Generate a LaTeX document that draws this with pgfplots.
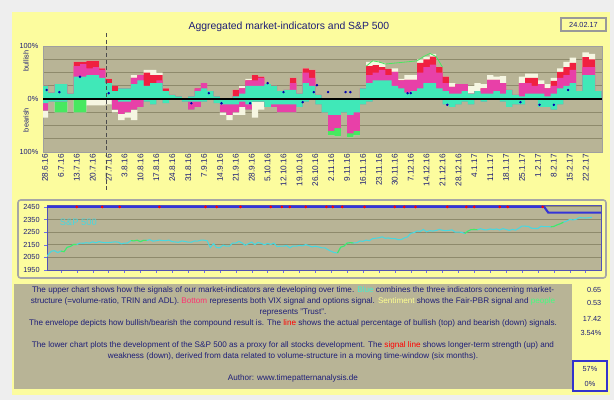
\documentclass[border=0pt]{standalone}
\usepackage{pgfplots}
\pgfplotsset{compat=1.18}
\usepackage{pgfplotstable}
\usepackage{fontspec}
\setmainfont{Liberation Sans}

\definecolor{bgout}{HTML}{EEEEEE}
\definecolor{panel}{HTML}{FCFC9E}
\definecolor{khaki}{HTML}{B8B496}
\definecolor{gridc}{HTML}{8E8A6C}
\definecolor{navy}{HTML}{1E1E78}
\definecolor{cC}{HTML}{40E8B8}
\definecolor{cM}{HTML}{E840A8}
\definecolor{cR}{HTML}{F02040}
\definecolor{cW}{HTML}{F6F6E2}
\definecolor{cG}{HTML}{48E860}
\definecolor{spx}{HTML}{48D8E0}
\definecolor{sig}{HTML}{3434D8}
\definecolor{wBlue}{HTML}{40F0D0}
\definecolor{wBottom}{HTML}{FF3070}
\definecolor{wSent}{HTML}{FFFF90}
\definecolor{wPeople}{HTML}{40FF80}

\def\PX{0.75pt}

\pgfplotstableread{
x c m r w nc nm ng nw
0.0 25 25 25 25 -8 -22 -22 -35
0.4 12 12 12 12 -5 -5 -5 -5
0.8 28 28 28 28 -5 -5 -25 -25
1.2 28 28 28 28 -5 -5 -25 -25
1.6 10 10 10 10 0 0 0 0
2.0 42 62 70 70 0 0 -25 -25
2.4 42 66 70 70 0 0 -25 -25
2.8 45 58 72 72 0 0 0 -12
3.2 45 60 72 72 0 0 0 -12
3.6 40 55 58 58 0 0 0 -12
4.0 30 30 38 38 0 0 0 -10
4.4 15 15 25 25 0 -20 -20 -25
4.8 20 20 20 20 -5 -28 -28 -40
5.2 20 20 20 20 -5 -25 -25 -35
5.6 28 40 40 45 0 -20 -20 -40
6.0 35 45 45 45 0 -15 -15 -15
6.4 25 25 50 55 -5 -5 -5 -5
6.8 30 30 45 55 -10 -10 -10 -10
7.2 30 35 45 50 0 0 0 0
7.6 15 15 20 20 -8 -8 -8 -8
8.0 8 8 8 8 0 0 0 0
8.4 5 5 5 5 0 0 0 0
8.8 0 0 0 0 -5 -5 -5 -5
9.2 5 5 5 5 -5 -20 -20 -20
9.6 15 20 20 20 -5 -15 -15 -15
10.0 20 30 30 30 -5 -5 -5 -5
10.4 15 15 15 15 0 0 0 0
10.8 5 5 5 5 -8 -8 -8 -8
11.2 0 0 0 0 -10 -25 -25 -30
11.6 0 0 0 0 -10 -30 -30 -40
12.0 5 5 17 17 -10 -25 -25 -30
12.4 10 20 20 25 -5 -15 -15 -30
12.8 25 35 35 38 -10 -20 -20 -20
13.2 25 35 45 45 -5 -5 -5 -35
13.6 25 40 42 42 -5 -5 -5 -20
14.0 28 28 28 28 -15 -15 -15 -15
14.4 25 25 25 25 -10 -15 -15 -15
14.8 15 15 15 15 -10 -25 -25 -25
15.2 17 17 17 17 -10 -25 -25 -25
15.6 17 30 40 40 -10 -25 -25 -25
16.0 10 10 10 10 -15 -15 -15 -15
16.4 30 50 58 58 -5 -5 -5 -5
16.8 25 40 55 55 0 0 0 0
17.2 8 8 8 8 -10 -10 -10 -10
17.6 0 0 0 0 -25 -25 -25 -25
18.0 0 0 0 0 -30 -60 -68 -68
18.4 0 0 0 0 -30 -55 -70 -70
18.8 0 0 0 0 -25 -25 -25 -25
19.2 0 0 0 0 -30 -65 -72 -72
19.6 0 0 0 0 -25 -60 -68 -68
20.0 20 20 20 20 -10 -10 -10 -10
20.4 30 45 62 70 -5 -5 -5 -5
20.8 35 50 64 72 0 0 0 0
21.2 35 55 60 68 0 0 0 0
21.6 35 45 57 57 0 0 0 0
22.0 25 51 51 58 0 0 0 0
22.4 20 35 35 38 0 0 0 0
22.8 12 36 36 45 0 0 0 0
23.2 15 36 36 45 0 0 0 0
23.6 20 50 68 75 0 0 0 0
24.0 30 60 75 80 0 0 0 0
24.4 30 65 80 85 0 0 0 0
24.8 20 50 60 60 0 0 0 0
25.2 15 30 42 42 -10 -10 -10 -10
25.6 10 23 23 30 -15 -15 -15 -15
26.0 10 28 28 28 -10 -10 -10 -10
26.4 15 28 28 28 -5 -5 -5 -5
26.8 10 10 10 25 -10 -10 -10 -10
27.2 15 15 15 30 0 0 0 0
27.6 10 20 20 28 -5 -5 -5 -5
28.0 10 36 36 45 0 0 0 0
28.4 15 36 36 42 0 0 0 0
28.8 10 30 30 43 -5 -5 -5 -5
29.2 17 17 17 17 -15 -15 -15 -15
29.6 8 8 8 8 -10 -10 -10 -10
30.0 5 30 30 42 -10 -10 -10 -10
30.4 10 30 40 48 0 0 0 0
30.8 10 25 40 48 0 0 0 0
31.2 10 28 28 35 -15 -15 -15 -15
31.6 5 20 20 28 -15 -15 -15 -15
32.0 10 25 34 40 -20 -20 -20 -20
32.4 20 40 51 58 -10 -10 -10 -10
32.8 25 45 60 70 0 0 0 0
33.2 30 55 68 78 0 0 0 0
33.6 15 15 15 15 0 0 0 0
34.0 45 60 79 88 0 0 0 0
34.4 45 60 75 85 0 0 0 0
34.8 15 15 15 15 0 0 0 0
}\bars

\pgfplotstableread[row sep=\\]{
x y\\
0.0 2036\\ 0.2 2071\\ 0.4 2099\\ 0.6 2103\\ 0.8 2088\\ 1.0 2100\\ 1.2 2095\\ 1.4 2130\\ 1.6 2137\\ 1.8 2152\\
2.0 2152\\ 2.2 2163\\ 2.4 2162\\ 2.6 2166\\ 2.8 2163\\ 3.0 2173\\ 3.2 2165\\ 3.4 2175\\ 3.6 2169\\ 3.8 2166\\
4.0 2167\\ 4.2 2170\\ 4.4 2173\\ 4.6 2171\\ 4.8 2157\\ 5.0 2163\\ 5.2 2164\\ 5.4 2183\\ 5.6 2181\\ 5.8 2186\\
6.0 2175\\ 6.2 2185\\ 6.4 2184\\ 6.6 2190\\ 6.8 2178\\ 7.0 2182\\ 7.2 2187\\ 7.4 2183\\ 7.6 2182\\ 7.8 2187\\
8.0 2175\\ 8.2 2172\\ 8.4 2169\\ 8.6 2180\\ 8.8 2176\\ 9.0 2171\\ 9.2 2170\\ 9.4 2180\\ 9.6 2179\\ 9.8 2186\\
10.0 2186\\ 10.2 2182\\ 10.4 2128\\ 10.6 2159\\ 10.8 2127\\ 11.0 2126\\ 11.2 2147\\ 11.4 2139\\ 11.6 2139\\ 11.8 2163\\
12.0 2163\\ 12.2 2177\\ 12.4 2164\\ 12.6 2146\\ 12.8 2159\\ 13.0 2171\\ 13.2 2151\\ 13.4 2168\\ 13.6 2161\\ 13.8 2150\\
14.0 2160\\ 14.2 2153\\ 14.4 2163\\ 14.6 2136\\ 14.8 2139\\ 15.0 2139\\ 15.2 2144\\ 15.4 2126\\ 15.6 2140\\ 15.8 2139\\
16.0 2144\\ 16.2 2141\\ 16.4 2151\\ 16.6 2143\\ 16.8 2133\\ 17.0 2139\\ 17.2 2133\\ 17.4 2126\\ 17.6 2126\\ 17.8 2111\\
18.0 2098\\ 18.2 2088\\ 18.4 2085\\ 18.6 2131\\ 18.8 2139\\ 19.0 2163\\ 19.2 2167\\ 19.4 2164\\ 19.6 2165\\ 19.8 2180\\
20.0 2177\\ 20.2 2187\\ 20.4 2182\\ 20.6 2198\\ 20.8 2202\\ 21.0 2205\\ 21.2 2213\\ 21.4 2201\\ 21.6 2204\\ 21.8 2199\\
22.0 2199\\ 22.2 2191\\ 22.4 2191\\ 22.6 2204\\ 22.8 2212\\ 23.0 2241\\ 23.2 2246\\ 23.4 2259\\ 23.6 2256\\ 23.8 2271\\
24.0 2253\\ 24.2 2262\\ 24.4 2258\\ 24.6 2263\\ 24.8 2271\\ 25.0 2265\\ 25.2 2261\\ 25.4 2264\\ 25.6 2268\\ 25.8 2250\\
26.0 2250\\ 26.2 2249\\ 26.4 2239\\ 26.6 2258\\ 26.8 2270\\ 27.0 2271\\ 27.2 2269\\ 27.4 2277\\ 27.6 2269\\ 27.8 2268\\
28.0 2275\\ 28.2 2271\\ 28.4 2275\\ 28.6 2267\\ 28.8 2278\\ 29.0 2271\\ 29.2 2264\\ 29.4 2271\\ 29.6 2266\\ 29.8 2281\\
30.0 2298\\ 30.2 2297\\ 30.4 2295\\ 30.6 2281\\ 30.8 2279\\ 31.0 2279\\ 31.2 2297\\ 31.4 2293\\ 31.6 2294\\ 31.8 2292\\
32.0 2295\\ 32.2 2307\\ 32.4 2316\\ 32.6 2328\\ 32.8 2337\\ 33.0 2350\\ 33.2 2347\\ 33.4 2351\\ 33.6 2365\\ 33.8 2363\\
34.0 2362\\ 34.2 2364\\ 34.4 2367\\
}\spxdata

\pgfplotsset{
  lay/.style={ybar, bar width=0.4, bar shift=0pt, draw=none, fill=#1},
}

\begin{document}
\begin{tikzpicture}
\useasboundingbox (0,0) rectangle (614*\PX,-400*\PX);
\fill[bgout] (0,0) rectangle (614*\PX,-400*\PX);
\fill[panel] (12*\PX,-12*\PX) rectangle (610*\PX,-395*\PX);

% title and date
\node[font=\fontsize{7.8}{9}\selectfont, text=navy] at (289*\PX,-27*\PX) {Aggregated market-indicators and S\&P 500};
\draw[gray!80, line width=0.8pt, fill=panel] (561*\PX,-18*\PX) rectangle (606*\PX,-31*\PX);
\node[font=\fontsize{5.5}{6}\selectfont, text=navy] at (583.5*\PX,-24.5*\PX) {24.02.17};

% side labels
\node[rotate=90, font=\fontsize{5.5}{6}\selectfont, text=navy] at (26*\PX,-61*\PX) {bullish};
\node[rotate=90, font=\fontsize{5.5}{6}\selectfont, text=navy] at (26*\PX,-120*\PX) {bearish};

% upper chart
\begin{axis}[
  at={(43*\PX,-152*\PX)}, anchor=south west,
  scale only axis, width=559*\PX, height=106*\PX,
  xmin=-0.13, xmax=35.03, ymin=-100, ymax=100,
  enlargelimits=false,
  axis background/.style={fill=khaki},
  axis line style={draw=gray!75, line width=0.7pt},
  xtick={0,...,34},
  xticklabels={28.6.16,6.7.16,13.7.16,20.7.16,27.7.16,3.8.16,10.8.16,17.8.16,24.8.16,31.8.16,7.9.16,14.9.16,21.9.16,28.9.16,5.10.16,12.10.16,19.10.16,26.10.16,2.11.16,9.11.16,16.11.16,23.11.16,30.11.16,7.12.16,14.12.16,21.12.16,28.12.16,4.1.17,11.1.17,18.1.17,25.1.17,1.2.17,8.2.17,15.2.17,22.2.17},
  xticklabel style={rotate=90, anchor=east, font=\fontsize{6.2}{7}\selectfont, text=navy, inner sep=1.5pt},
  ytick={-100,-75,...,100},
  yticklabels={100\%,,,,0\%,,,,100\%},
  yticklabel style={font=\fontsize{5.5}{6}\selectfont, text=navy},
  ymajorgrids, grid style={gridc, line width=0.7pt},
  major tick length=0pt,
  /pgf/number format/assume math mode=true,
]
\addplot[lay=cW] table[x=x,y=w]{\bars};
\addplot[lay=cR] table[x=x,y=r]{\bars};
\addplot[lay=cM] table[x=x,y=m]{\bars};
\addplot[lay=cC] table[x=x,y=c]{\bars};
\addplot[lay=cW] table[x=x,y=nw]{\bars};
\addplot[lay=cG] table[x=x,y=ng]{\bars};
\addplot[lay=cM] table[x=x,y=nm]{\bars};
\addplot[lay=cC] table[x=x,y=nc]{\bars};
\addplot[cG, line width=0.6pt] coordinates {(20.2,62) (20.6,72) (21.0,70) (21.4,66) (23.4,72) (23.8,80) (24.2,86) (24.6,80) (25.0,60)};
\addplot[only marks, mark=*, mark size=0.7pt, color=blue!70!black] coordinates {
 (0.1,17) (0.9,13) (2.2,42) (4.0,11) (9.2,-8) (10.3,11) (11.1,-8) (12.9,-8) (14.0,30) (15.0,13) (16.2,-6) (16.9,13) (17.1,26) (17.8,13) (18.9,13) (19.2,13) (22.8,11) (23.0,11) (25.3,-11) (29.9,-6) (31.1,-11) (32.0,-11) (32.9,17)};
\draw[black, line width=1pt] (axis cs:-0.13,0) -- (axis cs:35.03,0);
\end{axis}
\draw[gray!60!black, densely dashed, line width=0.5pt] (106*\PX,-33*\PX) -- (106*\PX,-190*\PX);

% lower chart frame
\draw[gray!70, line width=1.2pt, rounded corners=2pt] (18*\PX,-200*\PX) rectangle (606*\PX,-278*\PX);
\begin{axis}[
  at={(47*\PX,-270*\PX)}, anchor=south west,
  scale only axis, width=554*\PX, height=65*\PX,
  xmin=0.13, xmax=34.97, ymin=1950, ymax=2465,
  enlargelimits=false,
  axis background/.style={fill=khaki},
  axis line style={draw=sig!60!gray, line width=0.7pt},
  xtick={1,...,34}, xticklabels={},
  ytick={1950,2050,...,2450},
  yticklabel style={font=\fontsize{5.5}{6}\selectfont, text=navy},
  ymajorgrids, grid style={gridc, line width=0.7pt},
  xtick pos=bottom, ytick pos=left,
  tick align=outside, major tick length=2pt,
  tick style={draw=sig!70},
  /pgf/number format/assume math mode=true,
  /pgf/number format/1000 sep={},
]
\addplot[spx, line width=0.8pt] table[x=x,y=y]{\spxdata};
\addplot[cG, line width=0.8pt, restrict x to domain=1.0:2.0] table[x=x,y=y]{\spxdata};
\addplot[cG, line width=0.8pt, restrict x to domain=5.4:6.4] table[x=x,y=y]{\spxdata};
\addplot[cG, line width=0.8pt, restrict x to domain=18.4:19.4] table[x=x,y=y]{\spxdata};
\addplot[cG, line width=0.8pt, restrict x to domain=26.4:27.2] table[x=x,y=y]{\spxdata};
\addplot[cG, line width=0.8pt, restrict x to domain=31.8:32.6] table[x=x,y=y]{\spxdata};
\addplot[sig, line width=1.6pt] coordinates {(0.13,2450) (31.4,2450) (31.65,2405) (34.97,2405)};
\addplot[only marks, mark=*, mark size=0.8pt, color=red] coordinates {
 (0.1,2450) (2.0,2450) (3.6,2450) (4.7,2450) (7.2,2450) (10.1,2450) (10.8,2450) (12.3,2450) (14.2,2450) (14.9,2450) (15.4,2450) (16.4,2450) (17.7,2450) (18.1,2450) (18.7,2450) (20.1,2450) (22.0,2450) (22.6,2450) (23.3,2450) (25.3,2450) (26.5,2450) (27.0,2450) (28.6,2450) (29.1,2450) (31.3,2450)};
\node[text=spx, font=\fontsize{7}{8}\selectfont] at (axis cs:2.1,2330) {S\&P 500};
\end{axis}

% description text box
\fill[khaki] (14*\PX,-284*\PX) rectangle (572*\PX,-389*\PX);
\node[align=center, font=\fontsize{6.1}{8.25}\selectfont, text=navy] at (293*\PX,-334.5*\PX) {%
The upper chart shows how the signals of our market-indicators are developing over time. {\color{wBlue}Blue} combines the three indicators concerning market-\\
structure (=volume-ratio, TRIN and ADL). {\color{wBottom}Bottom} represents both VIX signal and options signal. {\color{wSent}Sentiment} shows the Fair-PBR signal and {\color{wPeople}people}\\
represents "Trust".\\
The envelope depicts how bullish/bearish the compound result is. The {\color{red}line} shows the actual percentage of bullish (top) and bearish (down) signals.\\[8.25pt]
The lower chart plots the development of the S\&P 500 as a proxy for all stocks development. The {\color{red}signal line} shows longer-term strength (up) and\\
weakness (down), derived from data related to volume-structure in a moving time-window (six months).\\[8.25pt]
Author: www.timepatternanalysis.de};

% right-hand figures
\node[anchor=east, font=\fontsize{5.5}{6}\selectfont, text=navy] at (606*\PX,-290*\PX) {0.65};
\node[anchor=east, font=\fontsize{5.5}{6}\selectfont, text=navy] at (606*\PX,-303*\PX) {0.53};
\node[anchor=east, font=\fontsize{5.5}{6}\selectfont, text=navy] at (606*\PX,-319*\PX) {17.42};
\node[anchor=east, font=\fontsize{5.5}{6}\selectfont, text=navy] at (606*\PX,-333*\PX) {3.54\%};
\draw[blue!60!gray, line width=0.8pt] (573*\PX,-361*\PX) rectangle (607*\PX,-391*\PX);
\node[font=\fontsize{5.5}{6}\selectfont, text=navy] at (590*\PX,-369*\PX) {57\%};
\node[font=\fontsize{5.5}{6}\selectfont, text=navy] at (590*\PX,-384*\PX) {0\%};
\end{tikzpicture}
\end{document}
